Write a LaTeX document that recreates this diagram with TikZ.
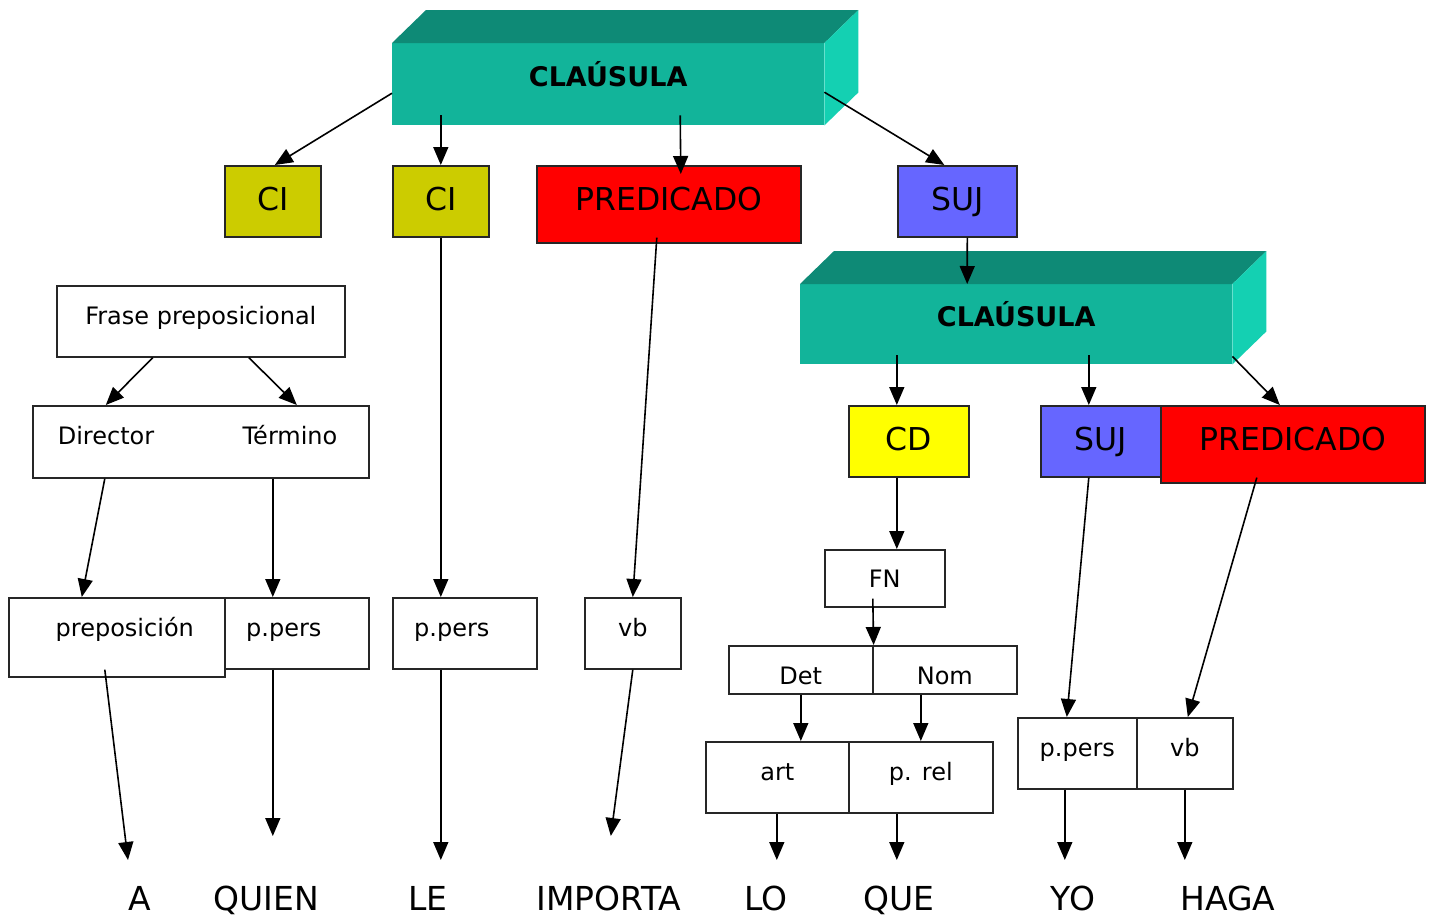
\documentclass[tikz,border=0pt]{standalone}
\usepackage{fontspec}
\setmainfont{DejaVu Sans}
\usetikzlibrary{arrows.meta,calc}

\definecolor{frenteclau}{RGB}{18,180,154}
\definecolor{techoclau}{RGB}{14,138,118}
\definecolor{ladoclau}{RGB}{20,208,178}
\definecolor{oliva}{RGB}{204,204,0}
\definecolor{amarillo}{RGB}{255,255,0}
\definecolor{rojo}{RGB}{255,0,0}
\definecolor{azul}{RGB}{102,102,255}

\tikzset{
  caja/.style={draw=black!85, line width=1.6pt, inner sep=0pt, anchor=north west,
    font=\fontsize{24}{24}\selectfont},
  grande/.style={font=\fontsize{31.5}{32}\selectfont},
  alto/.style 2 args={text height=#1, text depth=#2},
  clausula/.style={fill=frenteclau, inner sep=0pt, anchor=north west, minimum width=432pt,
    font=\bfseries\fontsize{27}{27}\selectfont},
  texto/.style={anchor=base, font=\fontsize{24}{24}\selectfont},
  palabra/.style={anchor=base, inner sep=0pt, font=\fontsize{33}{33}\selectfont},
  flecha/.style={line width=1.6pt, -{Triangle[length=18pt,width=15pt]}}
}

\begin{document}
\begin{tikzpicture}[x=1pt, y=-1pt]
  \useasboundingbox (0,0) rectangle (1435,919);

  % clausulas
  \node[clausula, alto={43pt}{39pt}] (cl1) at (392,43) {CLAÚSULA};
  \node[clausula, alto={42pt}{38pt}] (cl2) at (800,284) {CLAÚSULA};
  \foreach \c in {cl1,cl2} {
    \fill[techoclau] (\c.north west) -- ++(34,-33) -- ($(\c.north east)+(34,-33)$) -- (\c.north east) -- cycle;
    \fill[ladoclau] (\c.north east) -- ++(34,-33) -- ($(\c.south east)+(34,-33)$) -- (\c.south east) -- cycle;
  }

  % primer nivel
  \node[caja, grande, fill=oliva, minimum width=96pt, alto={45pt}{26pt}] (ci1) at (224,165) {CI};
  \node[caja, grande, fill=oliva, minimum width=96pt, alto={45pt}{26pt}] (ci2) at (392,165) {CI};
  \node[caja, grande, fill=rojo, minimum width=264pt, alto={45pt}{32pt}] (pred1) at (536,165) {PREDICADO};
  \node[caja, grande, fill=azul, minimum width=119pt, alto={45pt}{26pt}] (suj1) at (897,165) {SUJ};

  % frase preposicional
  \node[caja, minimum width=288pt, alto={39pt}{32pt}] (frase) at (56,285) {Frase preposicional};
  \node[caja, minimum width=336pt, alto={39pt}{33pt}] (dt) at (32,405) {};
  \node[texto] (director) at (106,444) {Director};
  \node[texto] (termino) at (290,444) {Término};
  \node[caja, minimum width=216pt, alto={39pt}{40pt}] (prep) at (8,597) {\hspace*{16pt}preposición};
  \node[caja, minimum width=144pt, alto={39pt}{32pt}] (ppers1) at (224,597) {p.pers\hspace*{26pt}};
  \node[caja, minimum width=144pt, alto={39pt}{32pt}] (ppers2) at (392,597) {p.pers\hspace*{26pt}};
  \node[caja, minimum width=96pt, alto={39pt}{32pt}] (vb1) at (584,597) {vb};

  % segunda clausula
  \node[caja, grande, fill=amarillo, minimum width=120pt, alto={45pt}{26pt}] (cd) at (848,405) {CD};
  \node[caja, grande, fill=azul, minimum width=120pt, alto={45pt}{26pt}] (suj2) at (1040,405) {SUJ};
  \node[caja, grande, fill=rojo, minimum width=264pt, alto={45pt}{32pt}] (pred2) at (1160,405) {PREDICADO};
  \node[caja, minimum width=120pt, alto={38pt}{19pt}] (fn) at (824,549) {FN};
  \node[caja, minimum width=144pt, alto={39pt}{9pt}] (det) at (728,645) {Det};
  \node[caja, minimum width=144pt, alto={39pt}{9pt}] (nom) at (872,645) {Nom};
  \node[caja, minimum width=143pt, alto={39pt}{32pt}] (art) at (705,741) {art};
  \node[caja, minimum width=144pt, alto={39pt}{32pt}] (prel) at (848,741) {p. rel};
  \node[caja, minimum width=119pt, alto={39pt}{32pt}] (ppers3) at (1017,717) {p.pers};
  \node[caja, minimum width=96pt, alto={39pt}{32pt}] (vb2) at (1136,717) {vb};

  % palabras
  \node[palabra] (wA) at (140,910) {A};
  \node[palabra] (wquien) at (266,910) {QUIEN};
  \node[palabra] (wle) at (428,910) {LE};
  \node[palabra] (wimporta) at (609,910) {IMPORTA};
  \node[palabra] (wlo) at (766,910) {LO};
  \node[palabra] (wque) at (899,910) {QUE};
  \node[palabra] (wyo) at (1073,910) {YO};
  \node[palabra] (whaga) at (1228,910) {HAGA};
  \coordinate (baja) at (0,860);
  \coordinate (media) at (0,836);

  % flechas de arriba
  \draw[flecha] ($(cl1.west)+(0,9)$) -- ($(ci1.north)+(2,0)$);
  \draw[flecha] ($(ci2.north |- cl1.south)+(0,-10)$) -- (ci2.north);
  \draw[flecha] ($(cl1.south)+(72,-10)$) -- ($(pred1.north)+(12,9)$);
  \draw[flecha] ($(cl1.east)+(0,8)$) -- ($(suj1.north)+(-13,0)$);
  \draw[flecha] ($(suj1.south)+(10,0)$) -- ($(cl2.north)+(-49,0)$);
  \draw[flecha] ($(cd.north |- cl2.south)+(-12,-9)$) -- ($(cd.north)+(-12,0)$);
  \draw[flecha] ($(suj2.north |- cl2.south)+(-12,-9)$) -- ($(suj2.north)+(-12,0)$);
  \draw[flecha] ($(cl2.south east)+(0,-8)$) -- ($(pred2.north)+(-13,0)$);

  % flechas intermedias
  \draw[flecha] ($(frase.south)+(-48,0)$) -- ($(dt.north)+(-95,0)$);
  \draw[flecha] ($(frase.south)+(48,0)$) -- ($(dt.north)+(96,0)$);
  \draw[flecha] ($(dt.south)+(-96,0)$) -- ($(prep.north)+(-35,0)$);
  \draw[flecha] ($(dt.south)+(72,0)$) -- ($(ppers1.north)+(-24,0)$);
  \draw[flecha] (ci2.south) -- ($(ppers2.north)+(-24,0)$);
  \draw[flecha] ($(pred1.south)+(-12,-6)$) -- (vb1.north);
  \draw[flecha] ($(cd.south)+(-12,0)$) -- ($(fn.north)+(12,0)$);
  \draw[flecha] ($(fn.south)+(-12,-9)$) -- (det.north east);
  \draw[flecha] (det.south) -- (det.south |- art.north);
  \draw[flecha] ($(nom.south)+(-24,0)$) -- (prel.north);
  \draw[flecha] ($(suj2.south)+(-12,0)$) -- ($(ppers3.north)+(-10.5,0)$);
  \draw[flecha] ($(pred2.south)+(-36,-6)$) -- ($(vb2.north)+(3,0)$);

  % flechas a las palabras
  \draw[flecha] ($(prep.south)+(-12,-8)$) -- ($(wA |- baja)+(-12,0)$);
  \draw[flecha] ($(ppers1.south)+(-24,0)$) -- ($(ppers1.south |- media)+(-24,0)$);
  \draw[flecha] ($(ppers2.south)+(-24,0)$) -- ($(ppers2.south |- baja)+(-24,0)$);
  \draw[flecha] (vb1.south) -- ($(vb1.south |- media)+(-22,0)$);
  \draw[flecha] ($(art.south)+(-0.5,0)$) -- ($(art.south |- baja)+(-0.5,0)$);
  \draw[flecha] ($(prel.south)+(-24,0)$) -- ($(prel.south |- baja)+(-24,0)$);
  \draw[flecha] ($(ppers3.south)+(-12.5,0)$) -- ($(ppers3.south |- baja)+(-12.5,0)$);
  \draw[flecha] (vb2.south) -- (vb2.south |- baja);
\end{tikzpicture}
\end{document}
